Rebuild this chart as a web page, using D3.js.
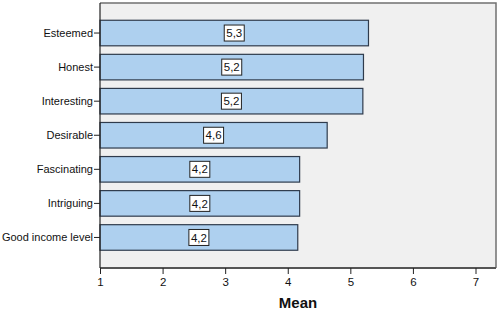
<!DOCTYPE html>
<html>
<head>
<meta charset="utf-8">
<script src="https://cdn.jsdelivr.net/npm/d3@7"></script>
<style>
  html, body { margin: 0; padding: 0; background: #ffffff; }
  svg { display: block; font-family: "Liberation Sans", Arial, sans-serif; }
</style>
</head>
<body>
<svg id="chart" width="502" height="323"></svg>
<script>
// Mean ratings per attribute
const categories = ["Esteemed", "Honest", "Interesting", "Desirable", "Fascinating", "Intriguing", "Good income level"];
const means = [5.29, 5.21, 5.20, 4.63, 4.19, 4.19, 4.16];
const valueLabels = ["5,3", "5,2", "5,2", "4,6", "4,2", "4,2", "4,2"];
const xTicks = [1, 2, 3, 4, 5, 6, 7];
const axisTitle = "Mean";

const FONT = "'Liberation Sans', Arial, sans-serif";
const svg = d3.select("#chart");
const plot = { left: 100, top: 3, right: 496, bottom: 268 };

const x = d3.scaleLinear().domain([1, 7]).range([100, 475.5]);
const y = d3.scaleBand().domain(categories).range([16, 254.5]).paddingInner(0.25).paddingOuter(0.125);

// plot background
svg.append("rect")
  .attr("x", plot.left).attr("y", plot.top)
  .attr("width", plot.right - plot.left).attr("height", plot.bottom - plot.top)
  .attr("fill", "#f0f0f0").attr("stroke", "none");

// bars
const data = categories.map((c, i) => ({ c, v: means[i], label: valueLabels[i] }));
svg.selectAll("rect.bar").data(data).join("rect")
  .attr("class", "bar")
  .attr("x", x(1))
  .attr("y", d => y(d.c))
  .attr("width", d => x(d.v) - x(1))
  .attr("height", y.bandwidth())
  .attr("fill", "#aed0ef")
  .attr("stroke", "#2f3b4c")
  .attr("stroke-width", 1.2);

// value labels in boxes
const lab = svg.selectAll("g.lab").data(data).join("g")
  .attr("class", "lab")
  .attr("transform", d => `translate(${(x(1) + x(d.v)) / 2},${y(d.c) + y.bandwidth() / 2})`);
lab.append("rect")
  .attr("x", -10).attr("y", -8).attr("width", 20).attr("height", 16)
  .attr("fill", "#ffffff").attr("stroke", "#222222").attr("stroke-width", 1);
lab.append("text")
  .attr("text-anchor", "middle").attr("dy", "0.36em")
  .attr("font-size", 11.5).attr("fill", "#111").attr("font-family", FONT)
  .text(d => d.label);

// frame
svg.append("path")
  .attr("d", `M${plot.left},${plot.top}H${plot.right}V${plot.bottom}`)
  .attr("fill", "none").attr("stroke", "#707070").attr("stroke-width", 1.5);
svg.append("line")
  .attr("x1", plot.left).attr("x2", plot.right)
  .attr("y1", plot.bottom).attr("y2", plot.bottom)
  .attr("stroke", "#555").attr("stroke-width", 2);

// y axis
const yAxis = svg.append("g")
  .attr("transform", `translate(${plot.left},0)`)
  .call(d3.axisLeft(y).tickSize(6).tickPadding(1));
yAxis.select(".domain").attr("d", `M0,${plot.top}V${plot.bottom}`).attr("stroke", "#222").attr("stroke-width", 1.2);
yAxis.selectAll("line").attr("stroke", "#222");
yAxis.selectAll("text").attr("font-size", 11).attr("fill", "#111").attr("font-family", FONT);

// x axis
const xAxis = svg.append("g")
  .attr("transform", `translate(0,${plot.bottom})`)
  .call(d3.axisBottom(x).tickValues(xTicks).tickFormat(d3.format("d")).tickSize(6).tickPadding(4));
xAxis.select(".domain").remove();
xAxis.selectAll("line").attr("stroke", "#222");
xAxis.selectAll("text").attr("font-size", 11.5).attr("fill", "#111").attr("font-family", FONT);

// axis title
svg.append("text")
  .attr("x", 298).attr("y", 308)
  .attr("text-anchor", "middle")
  .attr("font-size", 15).attr("font-weight", "bold").attr("fill", "#111").attr("font-family", FONT)
  .text(axisTitle);
</script>
</body>
</html>
